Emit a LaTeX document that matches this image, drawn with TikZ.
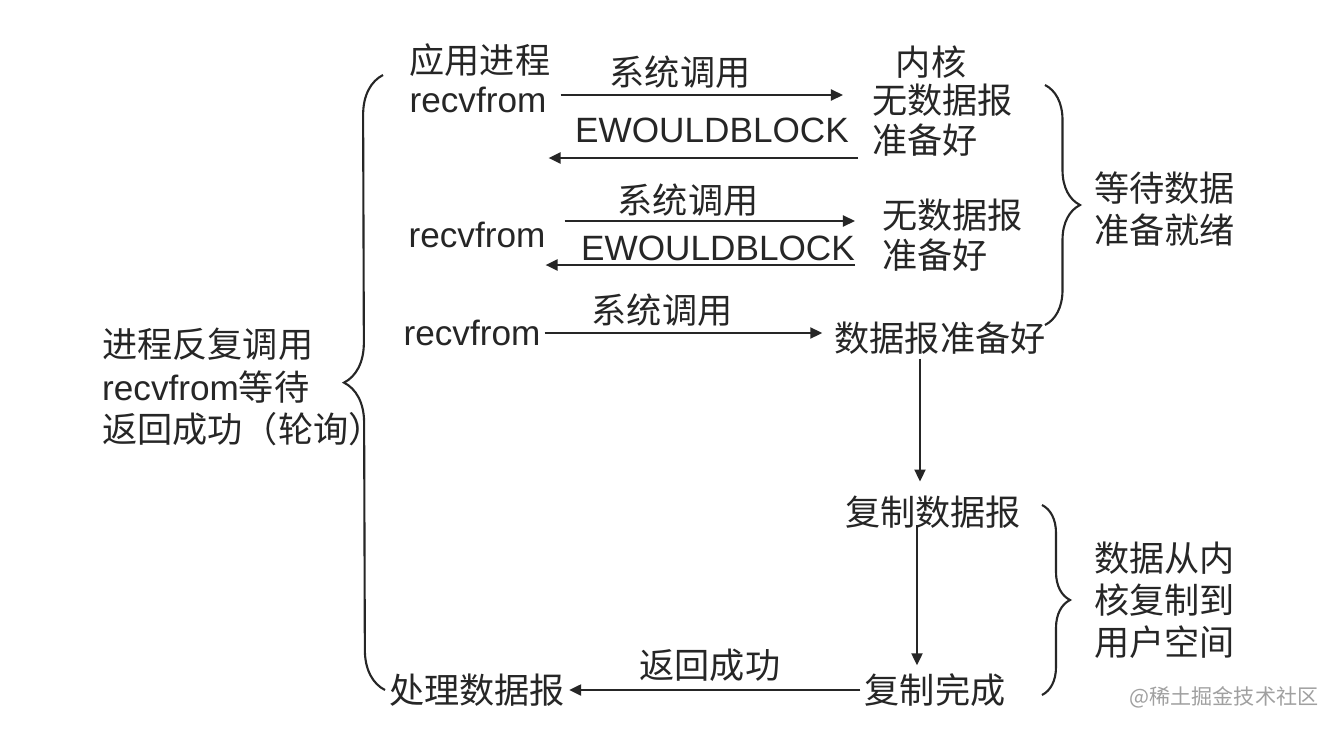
\documentclass[tikz,border=0pt]{standalone}
\usepackage{fontspec}
\setmainfont{Liberation Sans}
\newfontfamily\cjk{Noto Sans CJK SC}
\usepackage{xcolor}
\usepackage{tikz}
\usetikzlibrary{calc,positioning,arrows.meta,decorations.pathreplacing}
\definecolor{InkDark}{HTML}{262626}
\definecolor{MarkGrey}{HTML}{A0A0A0}

\begin{document}
\begin{tikzpicture}[x=0.01cm,y=-0.01cm,
        zh/.style={text=InkDark,inner sep=1pt,font=\fontsize{10}{12}\selectfont\cjk},
        en/.style={text=InkDark,inner sep=1pt,font=\fontsize{10}{12}\selectfont},
        call/.style={draw=InkDark,line width=0.6pt,-{Triangle[length=1.2mm,width=1.1mm]}},
        brc/.style={draw=InkDark,line width=0.6pt,decorate,decoration={brace,amplitude=#1}}]
    \fill[white] (0,0) rectangle (1326,730);
    \useasboundingbox (0,0) rectangle (1326,730);

    % user side
    \node[zh] (app) at (480,60) {应用进程};
    \node[en] (r1) at (478,100) {recvfrom};
    \node[en] (r2) at (477,235) {recvfrom};
    \node[en] (r3) at (472,333) {recvfrom};
    \node[zh] (proc) at (477,690) {处理数据报};

    % kernel side
    \node[zh] (kern) at (931,62) {内核};
    \node[zh,anchor=west,align=left,font=\fontsize{10}{11.5}\selectfont\cjk] (k1) at (868,120) {无数据报\\准备好};
    \node[zh,anchor=west,align=left,font=\fontsize{10}{11.5}\selectfont\cjk] (k2) at (878,235) {无数据报\\准备好};
    \node[zh] (ready) at (940,338) {数据报准备好};
    \node[zh] (copy) at (933,512) {复制数据报};
    \node[zh] (done) at (935,690) {复制完成};

    % labels on the calls
    \node[zh] (sc1) at (680,72) {系统调用};
    \node[en] (wb1) at (712,130) {EWOULDBLOCK};
    \node[zh] (sc2) at (688,200) {系统调用};
    \node[en] (wb2) at (718,248) {EWOULDBLOCK};
    \node[zh] (sc3) at (662,310) {系统调用};
    \node[zh] (rs) at (710,665) {返回成功};

    % calls and returns
    \draw[call] ($(r1.east)+(10,-5)$) -- ($(k1.west|-r1)+(-25,-5)$);
    \draw[call] ($(k1.west)+(-10,38)$) -- ($(r1.east)+(-2,58)$);
    \draw[call] ($(r2.east)+(15,-14)$) -- ($(k2.west)+(-23,-14)$);
    \draw[call] ($(k2.west)+(-23,30)$) -- ($(r2.east)+(-4,30)$);
    \draw[call] (r3.east) -- ($(ready.west)+(-8,-5)$);
    \draw[call] ($(ready.south)+(-20,0)$) -- ($(copy.north)+(-13,-10)$);
    \draw[call] ($(copy.center)+(-16,13)$) -- ($(done.north)+(-18,-4)$);
    \draw[call] (done.west) -- (proc.east);

    % braces
    \coordinate (lb1) at (385,690);
    \coordinate (lb2) at (383,75);
    \coordinate (rb1) at (1045,85);
    \coordinate (rb2) at (1045,325);
    \coordinate (rb3) at (1042,505);
    \coordinate (rb4) at (1042,695);
    \draw[brc=4mm] (lb1) -- (lb2);
    \draw[brc=3.5mm] (rb1) -- (rb2);
    \draw[brc=2.8mm] (rb3) -- (rb4);

    \node[zh,anchor=west,align=left] (poll) at (98,387) {进程反复调用\\{\rmfamily recvfrom}等待\\返回成功（轮询）};
    \node[zh,anchor=west,align=left] (wait) at (1090,209) {等待数据\\准备就绪};
    \node[zh,anchor=west,align=left] (move) at (1090,600) {数据从内\\核复制到\\用户空间};

    \node[text=MarkGrey,inner sep=0pt,font=\fontsize{6}{7}\selectfont\cjk] (mark) at (1224,697) {@稀土掘金技术社区};
\end{tikzpicture}
\end{document}
